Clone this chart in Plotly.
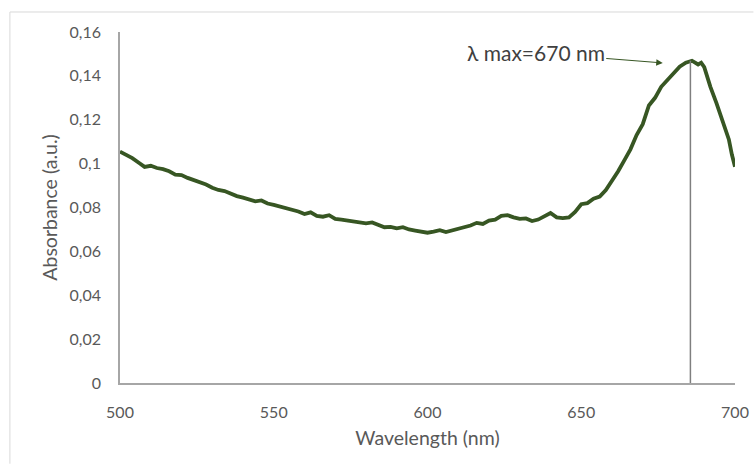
import plotly.graph_objects as go

wavelength = [500, 502, 504, 506, 508, 510, 512, 514, 516, 518, 520, 522, 524, 526, 528, 530,
              532, 534, 536, 538, 540, 542, 544, 546, 548, 550, 552, 554, 556, 558, 560, 562,
              564, 566, 568, 570, 572, 574, 576, 578, 580, 582, 584, 586, 588, 590, 592, 594,
              596, 598, 600, 602, 604, 606, 608, 610, 612, 614, 616, 618, 620, 622, 624, 626,
              628, 630, 632, 634, 636, 638, 640, 642, 644, 646, 648, 650, 652, 654, 656, 658,
              660, 662, 664, 666, 668, 670, 672, 674, 676, 678, 680, 682, 684, 686, 688, 689,
              690, 692, 694, 696, 698, 699, 700]
absorbance = [0.1055, 0.1040, 0.1025, 0.1005, 0.0985, 0.0990, 0.0980, 0.0975, 0.0965, 0.0950,
              0.0948, 0.0935, 0.0925, 0.0912, 0.0905, 0.0890, 0.0880, 0.0875, 0.0862, 0.0852,
              0.0845, 0.0835, 0.0828, 0.0832, 0.0818, 0.0812, 0.0805, 0.0800, 0.0790, 0.0782,
              0.0770, 0.0778, 0.0762, 0.0758, 0.0765, 0.0748, 0.0745, 0.0740, 0.0738, 0.0730,
              0.0728, 0.0732, 0.0720, 0.0710, 0.0712, 0.0705, 0.0710, 0.0700, 0.0695, 0.0688,
              0.0685, 0.0690, 0.0697, 0.0688, 0.0695, 0.0705, 0.0712, 0.0718, 0.0730, 0.0725,
              0.0740, 0.0745, 0.0762, 0.0765, 0.0755, 0.0748, 0.0750, 0.0738, 0.0745, 0.0758,
              0.0775, 0.0755, 0.0752, 0.0755, 0.0780, 0.0815, 0.0820, 0.0840, 0.0850, 0.0880,
              0.0920, 0.0965, 0.1015, 0.1065, 0.1130, 0.1180, 0.1265, 0.1300, 0.1350, 0.1380,
              0.1415, 0.1442, 0.1460, 0.1469, 0.1452, 0.1460, 0.1440, 0.1350, 0.1275, 0.1190,
              0.1110, 0.1040, 0.0986]

peak_x = [685.5, 685.5]
peak_y = [0, 0.1469]

y_tickvals = [0, 0.02, 0.04, 0.06, 0.08, 0.10, 0.12, 0.14, 0.16]
y_ticktext = ["0", "0,02", "0,04", "0,06", "0,08", "0,1", "0,12", "0,14", "0,16"]
x_tickvals = [500, 550, 600, 650, 700]

annot_text = "λ max=670 nm"
annot_x = 676.5
annot_y = 0.1459

FONT = "Lato, 'Open Sans', sans-serif"

fig = go.Figure()
fig.add_trace(go.Scatter(x=wavelength, y=absorbance, mode="lines",
                         line=dict(color="#375623", width=3.8), cliponaxis=False,
                         showlegend=False))
fig.add_trace(go.Scatter(x=peak_x, y=peak_y, mode="lines",
                         line=dict(color="#7f7f7f", width=1.5), showlegend=False))

fig.add_annotation(x=annot_x, y=annot_y, text=annot_text, showarrow=True,
                   ax=-127, ay=-10, arrowhead=2, arrowsize=1.3, arrowwidth=1,
                   arrowcolor="#375623", font=dict(size=21, color="#404040", family=FONT))

# outer chart border
fig.add_shape(type="line", xref="paper", yref="paper", x0=-0.179, x1=1.03, y0=1.057, y1=1.057,
              line=dict(color="#d9d9d9", width=1))
fig.add_shape(type="line", xref="paper", yref="paper", x0=-0.179, x1=-0.179, y0=-0.23, y1=1.057,
              line=dict(color="#d9d9d9", width=1))

fig.update_layout(
    width=754, height=464,
    margin=dict(l=120, r=19, t=32, b=81, autoexpand=False),
    paper_bgcolor="white", plot_bgcolor="white",
    separators=", ",
    font=dict(family=FONT, color="#595959", size=16),
    xaxis=dict(range=[500, 700], tickvals=x_tickvals, showgrid=False, zeroline=False,
               showline=True, linecolor="#a6a6a6", linewidth=1.5, automargin=False,
               ticklabeloverflow="allow",
               ticks="outside", ticklen=14, tickcolor="rgba(0,0,0,0)",
               tickfont=dict(size=16, color="#595959"),
               title=dict(text="Wavelength (nm)", font=dict(size=19.5, color="#595959"), standoff=11)),
    yaxis=dict(range=[0, 0.16], tickvals=y_tickvals, ticktext=y_ticktext, showgrid=False,
               zeroline=False, showline=True, linecolor="#a6a6a6", linewidth=1.5, automargin=False,
               ticks="outside", ticklen=14, tickcolor="rgba(0,0,0,0)",
               tickfont=dict(size=16, color="#595959"),
               title=dict(text="Absorbance (a.u.)", font=dict(size=19.5, color="#595959"), standoff=7)),
)

fig.write_html("out.html")
